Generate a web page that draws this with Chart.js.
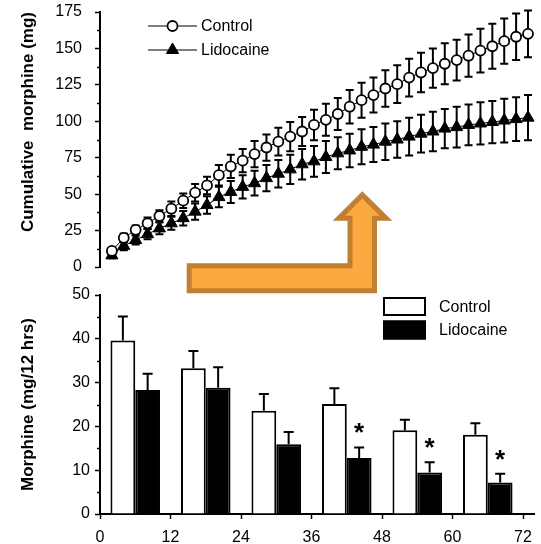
<!DOCTYPE html>
<html>
<head>
<meta charset="utf-8">
<title>Morphine consumption</title>
<script src="https://cdn.jsdelivr.net/npm/chart.js@4.4.1/dist/chart.umd.min.js"></script>
<style>
  html, body { margin: 0; padding: 0; background: #fff; }
  #wrap { position: relative; width: 541px; height: 544px; overflow: hidden; }
  #cumChart { position: absolute; left: 0; top: 0; }
  #barChart { position: absolute; left: 0; top: 280px; }
  #arrow { position: absolute; left: 0; top: 0; pointer-events: none; }
</style>
</head>
<body>
<div id="wrap">
  <canvas id="cumChart" width="541" height="280"></canvas>
  <canvas id="barChart" width="541" height="264"></canvas>
  <svg id="arrow" width="541" height="544" viewBox="0 0 541 544">
    <polygon fill="#c27e31" points="186.7,263.3 347.5,263.3 347.5,220.7 332.7,220.7 362.3,191.3 392.3,220.7 377,220.7 377,293.3 186.7,293.3"/>
    <polygon fill="#fbaa40" points="191.7,268.3 352.5,268.3 352.5,215.7 345,215.7 362.3,198.4 379.6,215.7 372,215.7 372,288.3 191.7,288.3"/>
  </svg>
</div>
<script>
// cumulative morphine (mg), one reading every 2 h
const hours = [2, 4, 6, 8, 10, 12, 14, 16, 18, 20, 22, 24, 26, 28, 30, 32, 34, 36,
               38, 40, 42, 44, 46, 48, 50, 52, 54, 56, 58, 60, 62, 64, 66, 68, 70, 72];
const controlCum = [11, 20, 25.5, 30, 35, 40, 45.5, 51, 56, 63, 69, 73, 77.5, 82, 86, 89.5, 93, 97.5,
                    101, 105, 110, 114.5, 118, 122.5, 125.5, 130, 133.5, 136.5, 139.5, 142, 145, 148.5, 151.5, 155, 158, 160];
const controlCumErr = [2, 3, 3, 4, 4, 5, 5, 6, 6, 7, 8, 8, 9, 9, 9.5, 10, 10, 10.5,
                       11, 11, 11.5, 12, 12, 12.5, 13, 13, 13.5, 13.5, 14, 14, 14.5, 15, 15.5, 15.5, 16, 16];
const lidoCum = [8, 14.5, 18.5, 22.5, 26.5, 30, 33.5, 38, 42.5, 48, 51.5, 55, 57.5, 61, 64, 67, 70.5, 72.5,
                 75.5, 78, 80, 82.5, 84, 86, 87.5, 89.5, 91.5, 93, 95, 96, 97.5, 98.5, 99.5, 100.5, 101.5, 102.5];
const lidoCumErr = [2, 3, 3, 3.5, 4, 4.5, 5, 5.5, 6, 7, 7.5, 8, 8.5, 9, 9.5, 10, 10.5, 10.5,
                    11, 11, 11.5, 12, 12, 12.5, 12.5, 13, 13, 13.5, 13.5, 14, 14, 14.5, 14.5, 15, 15, 15.5];

// morphine per 12 h period, plotted at the middle of each period
const periodMid = [6, 18, 30, 42, 54, 66];
const controlPeriod = [39.6, 33.3, 23.6, 25.1, 19.1, 18.1];
const controlPeriodErr = [5.5, 3.9, 3.8, 3.6, 2.4, 2.6];
const lidoPeriod = [28.3, 28.8, 15.9, 12.8, 9.5, 7.2];
const lidoPeriodErr = [3.7, 4.7, 2.8, 2.4, 2.3, 2.0];
const significant = [false, false, false, true, true, true];

// tick labels
const cumTicks = [0, 25, 50, 75, 100, 125, 150, 175];
const periodTicks = [0, 10, 20, 30, 40, 50];
const hourTicks = [0, 12, 24, 36, 48, 60, 72];

const FONT = "'Liberation Sans', Arial, Helvetica, sans-serif";

function xy(xs, ys) {
  return xs.map((x, i) => ({ x: x, y: ys[i] }));
}

function fixedTicks(values) {
  return function(scale) {
    scale.ticks = values.map(v => ({ value: v }));
  };
}

// fixed-width y axis; the layout padding alone decides the plot's top/bottom
function fixedYAxis(scale) {
  scale.width = 100;
  scale.paddingTop = 0;
  scale.paddingBottom = 0;
}

// error whiskers, read from dataset.errors
function drawErrorBars(chart, opts) {
  const ctx = chart.ctx;
  const yScale = chart.scales.y;
  chart.data.datasets.forEach((ds, di) => {
    if (!ds.errors) return;
    const meta = chart.getDatasetMeta(di);
    ctx.save();
    ctx.strokeStyle = '#000';
    ctx.lineWidth = opts.lineWidth;
    meta.data.forEach((el, i) => {
      const v = ds.data[i].y;
      const e = ds.errors[i];
      const yTop = yScale.getPixelForValue(v + e);
      const yBot = opts.upperOnly ? el.y : yScale.getPixelForValue(v - e);
      ctx.beginPath();
      ctx.moveTo(el.x, yTop);
      ctx.lineTo(el.x, yBot);
      ctx.moveTo(el.x - opts.cap, yTop);
      ctx.lineTo(el.x + opts.cap, yTop);
      if (!opts.upperOnly) {
        ctx.moveTo(el.x - opts.cap, yBot);
        ctx.lineTo(el.x + opts.cap, yBot);
      }
      ctx.stroke();
    });
    ctx.restore();
  });
}

const errorBarsPlugin = {
  id: 'errorBars',
  beforeDatasetsDraw(chart, args, opts) { if (!opts.onTop) drawErrorBars(chart, opts); },
  afterDatasetsDraw(chart, args, opts) { if (opts.onTop) drawErrorBars(chart, opts); }
};

// short ticks halfway between the labelled ones
const minorTicksPlugin = {
  id: 'minorTicks',
  afterDraw(chart, args, opts) {
    const s = chart.scales.y;
    const ctx = chart.ctx;
    ctx.save();
    ctx.strokeStyle = '#000';
    ctx.lineWidth = opts.width;
    for (let i = 0; i < s.ticks.length - 1; i++) {
      const y = Math.round((s.getPixelForValue(s.ticks[i].value) + s.getPixelForValue(s.ticks[i + 1].value)) / 2) + 0.5;
      ctx.beginPath();
      ctx.moveTo(s.right - opts.length, y);
      ctx.lineTo(s.right, y);
      ctx.stroke();
    }
    ctx.restore();
  }
};

// legend drawn inside the plot: line + marker
const lineLegendPlugin = {
  id: 'lineLegend',
  afterDraw(chart, args, opts) {
    const ctx = chart.ctx;
    ctx.save();
    chart.data.datasets.forEach((ds, i) => {
      const y = opts.y + i * opts.rowGap;
      const mx = opts.x + opts.lineLen / 2;
      ctx.strokeStyle = '#000';
      ctx.lineWidth = 1.2;
      ctx.beginPath();
      ctx.moveTo(opts.x, y);
      ctx.lineTo(opts.x + opts.lineLen, y);
      ctx.stroke();
      ctx.beginPath();
      if (ds.pointStyle === 'triangle') {
        const r = ds.pointRadius;
        ctx.moveTo(mx, y - r);
        ctx.lineTo(mx + r * 0.866, y + r * 0.5);
        ctx.lineTo(mx - r * 0.866, y + r * 0.5);
        ctx.closePath();
      } else {
        ctx.arc(mx, y, ds.pointRadius, 0, Math.PI * 2);
      }
      ctx.fillStyle = ds.pointBackgroundColor;
      ctx.fill();
      ctx.lineWidth = ds.pointBorderWidth;
      ctx.stroke();
      ctx.fillStyle = '#000';
      ctx.font = opts.font;
      ctx.textBaseline = 'middle';
      ctx.fillText(ds.label, opts.x + opts.lineLen + opts.gap, y + 1);
    });
    ctx.restore();
  }
};

// legend with filled boxes for the bar chart
const boxLegendPlugin = {
  id: 'boxLegend',
  afterDraw(chart, args, opts) {
    const ctx = chart.ctx;
    ctx.save();
    chart.data.datasets.forEach((ds, i) => {
      const top = opts.y + i * opts.rowGap;
      ctx.fillStyle = ds.backgroundColor;
      ctx.fillRect(opts.x, top, opts.boxW, opts.boxH);
      ctx.strokeStyle = '#000';
      ctx.lineWidth = 2;
      ctx.strokeRect(opts.x + 1, top + 1, opts.boxW - 2, opts.boxH - 2);
      ctx.fillStyle = '#000';
      ctx.font = opts.font;
      ctx.textBaseline = 'middle';
      ctx.fillText(ds.label, opts.x + opts.boxW + opts.gap, top + opts.boxH / 2 + 1);
    });
    ctx.restore();
  }
};

// asterisks over the lidocaine bars that differ from control
const starsPlugin = {
  id: 'stars',
  afterDatasetsDraw(chart, args, opts) {
    const ds = chart.data.datasets[1];
    const meta = chart.getDatasetMeta(1);
    const yScale = chart.scales.y;
    const ctx = chart.ctx;
    ctx.save();
    ctx.fillStyle = '#000';
    ctx.font = opts.font;
    ctx.textAlign = 'center';
    ctx.textBaseline = 'alphabetic';
    const m = ctx.measureText('*');
    meta.data.forEach((el, i) => {
      if (!significant[i]) return;
      const yc = yScale.getPixelForValue(ds.data[i].y + ds.errors[i]) - opts.gap;
      ctx.fillText('*', el.x, yc + (m.actualBoundingBoxAscent - m.actualBoundingBoxDescent) / 2);
    });
    ctx.restore();
  }
};

const tickFont = { family: FONT, size: 16 };
const titleFont = { family: FONT, size: 17, weight: 'bold' };

// top: cumulative consumption
new Chart(document.getElementById('cumChart'), {
  type: 'line',
  data: {
    datasets: [
      {
        label: 'Control',
        data: xy(hours, controlCum),
        errors: controlCumErr,
        borderColor: '#000',
        borderWidth: 1,
        pointStyle: 'circle',
        pointRadius: 5,
        pointBackgroundColor: '#fff',
        pointBorderColor: '#000',
        pointBorderWidth: 1.8,
        clip: false
      },
      {
        label: 'Lidocaine',
        data: xy(hours, lidoCum),
        errors: lidoCumErr,
        borderColor: '#000',
        borderWidth: 1,
        pointStyle: 'triangle',
        pointRadius: 7,
        pointBackgroundColor: '#000',
        pointBorderColor: '#000',
        pointBorderWidth: 1,
        clip: false
      }
    ]
  },
  options: {
    responsive: false,
    animation: false,
    devicePixelRatio: 1,
    layout: { padding: { top: 12, right: 13, bottom: 13, left: 0 } },
    plugins: {
      legend: { display: false },
      tooltip: { enabled: false },
      errorBars: { onTop: false, lineWidth: 2, cap: 4, upperOnly: false },
      minorTicks: { length: 3, width: 1.5 },
      lineLegend: { x: 148, y: 26, rowGap: 24, lineLen: 49, gap: 4, font: '16px ' + FONT }
    },
    scales: {
      x: { type: 'linear', min: 0, max: 72, display: false },
      y: {
        min: 0,
        max: 175,
        afterBuildTicks: fixedTicks(cumTicks),
        afterFit: fixedYAxis,
        border: { display: true, color: '#000', width: 2 },
        grid: { drawOnChartArea: false, drawTicks: true, tickLength: 5, tickColor: '#000', tickWidth: 1.5 },
        ticks: { color: '#000', font: tickFont, padding: 13 },
        title: {
          display: true,
          text: 'Cumulative  morphine (mg)',
          color: '#000',
          font: titleFont,
          align: 'end',
          padding: { top: 18, bottom: 0 }
        }
      }
    }
  },
  plugins: [errorBarsPlugin, minorTicksPlugin, lineLegendPlugin]
});

// bottom: consumption in each 12 h period
new Chart(document.getElementById('barChart'), {
  type: 'bar',
  data: {
    datasets: [
      {
        label: 'Control',
        data: xy(periodMid, controlPeriod),
        errors: controlPeriodErr,
        backgroundColor: '#fff',
        borderColor: '#000',
        borderWidth: 2
      },
      {
        label: 'Lidocaine',
        data: xy(periodMid, lidoPeriod),
        errors: lidoPeriodErr,
        backgroundColor: '#000',
        borderColor: '#000',
        borderWidth: 2
      }
    ]
  },
  options: {
    responsive: false,
    animation: false,
    devicePixelRatio: 1,
    categoryPercentage: 0.703,
    barPercentage: 1.0,
    layout: { padding: { top: 15, right: 3, bottom: 0, left: 0 } },
    plugins: {
      legend: { display: false },
      tooltip: { enabled: false },
      errorBars: { onTop: true, lineWidth: 2, cap: 5, upperOnly: true },
      minorTicks: { length: 3, width: 1.5 },
      boxLegend: { x: 383, y: 17, rowGap: 23.5, boxW: 43, boxH: 19, gap: 13, font: '16px ' + FONT },
      stars: { gap: 19, font: 'bold 26px ' + FONT }
    },
    scales: {
      x: {
        type: 'linear',
        min: 0,
        max: 74,
        offset: false,
        afterBuildTicks: fixedTicks(hourTicks),
        afterFit: scale => { scale.height = 30; },
        border: { display: true, color: '#000', width: 2 },
        grid: { offset: false, drawOnChartArea: false, drawTicks: true, tickLength: 5, tickColor: '#000', tickWidth: 1.5 },
        ticks: { color: '#000', font: tickFont, padding: 9, maxRotation: 0 }
      },
      y: {
        min: 0,
        max: 50,
        afterBuildTicks: fixedTicks(periodTicks),
        afterFit: fixedYAxis,
        border: { display: true, color: '#000', width: 2 },
        grid: { drawOnChartArea: false, drawTicks: true, tickLength: 5, tickColor: '#000', tickWidth: 1.5 },
        ticks: { color: '#000', font: tickFont, padding: 5 },
        title: {
          display: true,
          text: 'Morphine (mg/12 hrs)',
          color: '#000',
          font: titleFont,
          padding: { top: 18, bottom: 0 }
        }
      }
    }
  },
  plugins: [errorBarsPlugin, minorTicksPlugin, boxLegendPlugin, starsPlugin]
});
</script>
</body>
</html>
